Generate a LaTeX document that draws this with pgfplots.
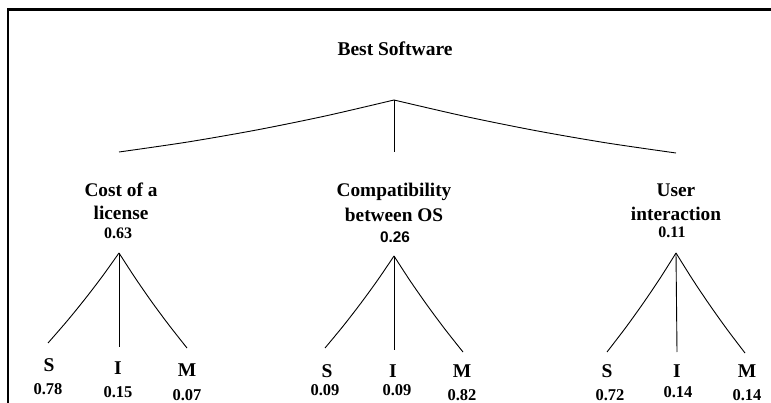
\documentclass[border=0pt]{standalone}
\usepackage{pgfplots}
\pgfplotsset{compat=1.18}
\usepackage{fontspec}
\setmainfont{Liberation Serif}
\newfontfamily\arial{Liberation Sans}
\newcommand\lab[4]{\node[anchor=base,inner sep=0pt] at (axis cs:#1,#2){\fontsize{#3}{#3}\selectfont\bfseries #4};}
\begin{document}
\begin{tikzpicture}
\begin{axis}[scale only axis, width=771pt, height=403pt,
  xmin=0, xmax=771, ymin=0, ymax=403, y dir=reverse,
  hide axis, clip=false]
% frame
\addplot[black, line width=2.5pt, line join=miter, no markers] coordinates {(8,403) (8,9.3) (771,9.3)};
% top level branches
\addplot[black, line width=0.9pt, no markers, smooth] coordinates {(119,152) (187.75,142) (256.5,130) (325.25,116) (394,100)};
\addplot[black, line width=0.9pt, no markers] coordinates {(394,100) (394,152)};
\addplot[black, line width=0.9pt, no markers, smooth] coordinates {(394,100) (464.5,116.25) (535,130.5) (605.5,142.75) (676,153)};
% Cost subtree
\addplot[black, line width=0.9pt, no markers, smooth] coordinates {(119,253) (102.4,276.25) (85,299) (66.9,321.25) (48,343)};
\addplot[black, line width=0.9pt, no markers] coordinates {(119,253) (119,347)};
\addplot[black, line width=0.9pt, no markers, smooth] coordinates {(119,253) (134.9,277.5) (151.5,301.5) (168.9,325) (187,348)};
% Compatibility subtree
\addplot[black, line width=0.9pt, no markers, smooth] coordinates {(394,256) (377.9,279.75) (361,303) (343.4,325.75) (325,348)};
\addplot[black, line width=0.9pt, no markers] coordinates {(394,256) (394,350)};
\addplot[black, line width=0.9pt, no markers, smooth] coordinates {(394,256) (410.1,280.75) (427,305) (444.6,328.75) (463,352)};
% User subtree
\addplot[black, line width=0.9pt, no markers, smooth] coordinates {(676,253) (659.9,278.5) (643,303.5) (625.4,328) (607,352)};
\addplot[black, line width=0.9pt, no markers] coordinates {(676,253) (677,352)};
\addplot[black, line width=0.9pt, no markers, smooth] coordinates {(676,253) (692.1,278.75) (709,304) (726.6,328.75) (745,353)};
% labels
\lab{395}{56}{19.5}{Best Software}
\lab{121}{197}{19.3}{Cost of a}
\lab{121}{220}{19.3}{license}
\lab{118}{239}{16}{0.63}
\lab{394}{197}{19.3}{Compatibility}
\lab{394}{222}{19.3}{between OS}
\node[anchor=base,inner sep=0pt] at (axis cs:395,243){\fontsize{15.4}{15.4}\selectfont\arial\bfseries 0.26};
\lab{676}{197}{19.3}{User}
\lab{676}{221}{19.3}{interaction}
\lab{672}{238}{16}{0.11}
% leaves
\lab{49}{371}{19.5}{S}
\lab{48}{394}{16.5}{0.78}
\lab{118}{374}{19.5}{I}
\lab{118}{397}{16.5}{0.15}
\lab{187}{376}{19.5}{M}
\lab{187}{400}{16.5}{0.07}
\lab{327}{377}{19.5}{S}
\lab{325}{395}{16.5}{0.09}
\lab{393}{377}{19.5}{I}
\lab{397}{395}{16.5}{0.09}
\lab{462}{377}{19.5}{M}
\lab{462}{400}{16.5}{0.82}
\lab{607}{377}{19.5}{S}
\lab{610}{400}{16.5}{0.72}
\lab{677}{377}{19.5}{I}
\lab{678}{397}{16.5}{0.14}
\lab{747}{377}{19.5}{M}
\lab{747}{400}{16.5}{0.14}
\end{axis}
\pgfresetboundingbox
\path[use as bounding box] (0,0) rectangle (771pt,403pt);
\end{tikzpicture}
\end{document}
